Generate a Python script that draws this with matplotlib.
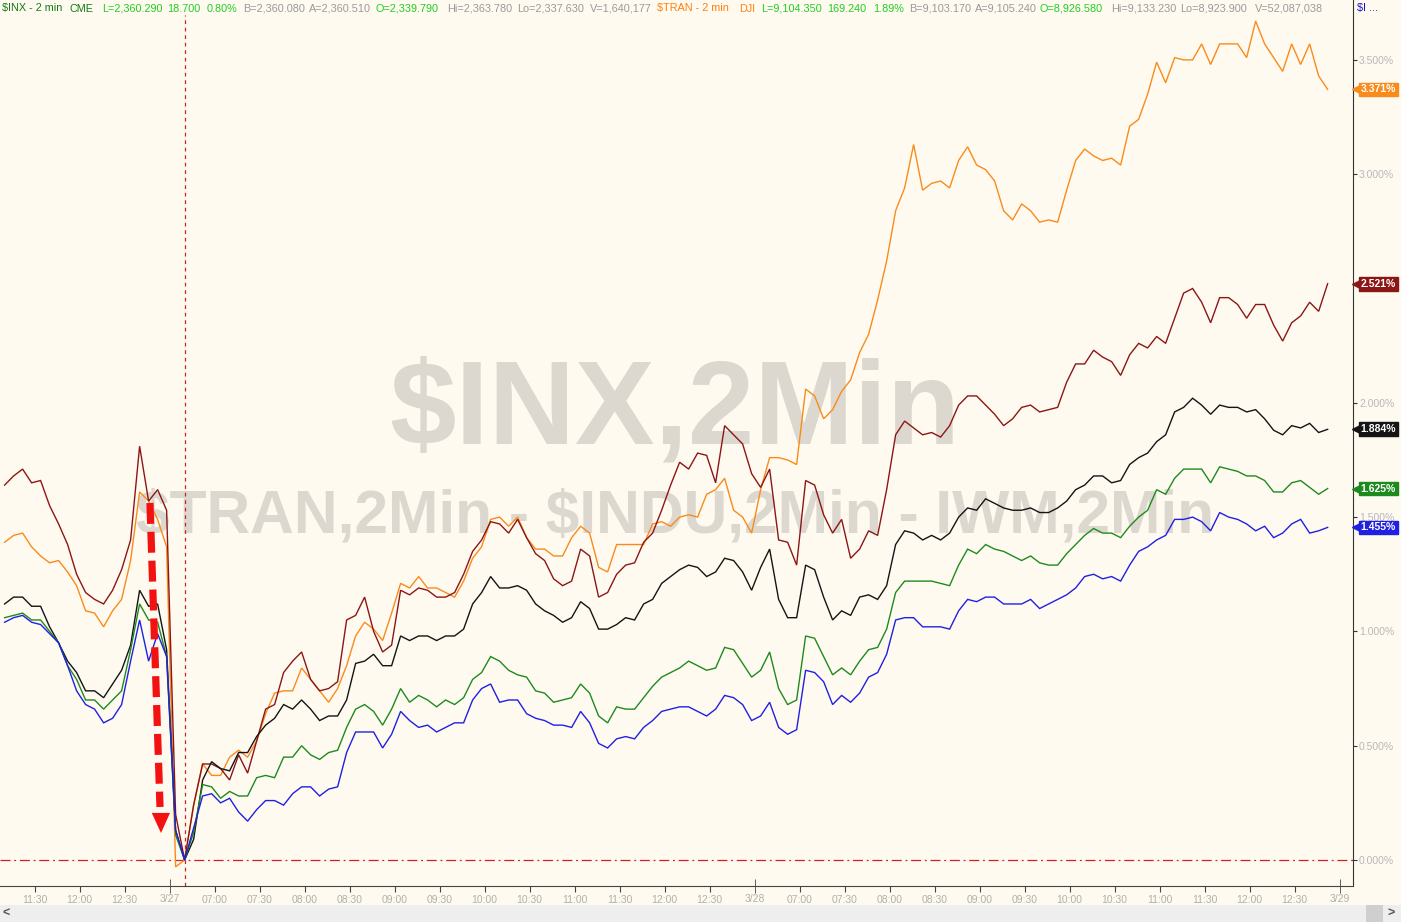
import matplotlib
matplotlib.use("Agg")
import matplotlib.pyplot as plt
import matplotlib.transforms as mtransforms
from matplotlib.patches import Polygon, Rectangle
import numpy as np

plt.rcParams['font.family'] = ['Liberation Sans', 'DejaVu Sans']
plt.rcParams['text.parse_math'] = False

# ---------------- data (percent change, 2-minute bars sampled every 6 min) ----------------
# time axis: trading minutes relative to the 3/27 open (previous close = 0)
t = np.arange(-110, 773, 6)

tran = [1.39,1.42,1.43,1.37,1.33,1.30,1.31,1.26,1.20,1.09,1.08,1.02,1.09,1.14,1.31,1.61,1.57,1.49,1.37,-0.03,
        0.00,0.24,0.42,0.37,0.37,0.45,0.48,0.45,0.52,0.64,0.73,0.74,0.74,0.84,0.79,0.74,0.69,0.75,0.85,0.98,
        1.04,1.01,0.96,1.08,1.21,1.19,1.24,1.19,1.19,1.17,1.15,1.22,1.32,1.37,1.49,1.50,1.46,1.50,1.41,1.36,
        1.36,1.33,1.33,1.41,1.46,1.43,1.28,1.26,1.38,1.38,1.38,1.38,1.47,1.48,1.46,1.50,1.51,1.50,1.60,1.62,
        1.67,1.53,1.50,1.43,1.62,1.76,1.76,1.75,1.73,2.06,2.03,1.93,1.97,2.05,2.10,2.22,2.30,2.45,2.62,2.84,
        2.94,3.13,2.93,2.96,2.97,2.94,3.06,3.12,3.04,3.02,2.97,2.84,2.80,2.87,2.84,2.79,2.80,2.79,2.93,3.06,
        3.11,3.08,3.06,3.07,3.04,3.21,3.24,3.35,3.49,3.40,3.51,3.50,3.50,3.57,3.48,3.57,3.57,3.57,3.51,3.67,
        3.57,3.51,3.45,3.57,3.48,3.57,3.43,3.371]

iwm = [1.64,1.68,1.71,1.65,1.66,1.55,1.47,1.38,1.25,1.17,1.14,1.12,1.18,1.27,1.40,1.81,1.57,1.62,1.53,0.20,
       0.00,0.24,0.42,0.42,0.40,0.35,0.46,0.38,0.52,0.66,0.68,0.82,0.87,0.91,0.79,0.74,0.75,0.78,1.05,1.07,
       1.15,1.00,0.91,0.94,1.18,1.16,1.19,1.18,1.15,1.15,1.17,1.25,1.35,1.40,1.48,1.47,1.43,1.49,1.41,1.34,
       1.31,1.23,1.20,1.22,1.36,1.33,1.15,1.17,1.25,1.29,1.30,1.39,1.43,1.53,1.64,1.74,1.71,1.78,1.77,1.65,
       1.90,1.86,1.82,1.69,1.63,1.71,1.40,1.39,1.29,1.66,1.64,1.51,1.43,1.49,1.32,1.36,1.44,1.42,1.62,1.86,
       1.92,1.89,1.86,1.87,1.85,1.90,1.99,2.03,2.03,1.99,1.95,1.90,1.93,1.98,1.99,1.96,1.97,1.98,2.09,2.17,
       2.17,2.23,2.20,2.18,2.12,2.21,2.26,2.24,2.29,2.26,2.37,2.48,2.50,2.44,2.35,2.46,2.46,2.43,2.37,2.43,
       2.43,2.34,2.27,2.35,2.38,2.44,2.40,2.521]

indu = [1.12,1.15,1.15,1.11,1.11,1.02,0.95,0.87,0.82,0.74,0.74,0.71,0.77,0.83,0.94,1.18,1.11,1.12,0.92,0.13,
        0.00,0.09,0.35,0.43,0.40,0.39,0.47,0.47,0.54,0.59,0.62,0.68,0.66,0.70,0.66,0.61,0.63,0.63,0.70,0.86,
        0.87,0.90,0.85,0.85,0.98,0.96,0.98,0.98,0.96,0.98,0.98,1.01,1.12,1.17,1.24,1.19,1.19,1.20,1.18,1.12,
        1.09,1.07,1.04,1.06,1.13,1.10,1.01,1.01,1.03,1.06,1.05,1.12,1.14,1.21,1.24,1.27,1.29,1.28,1.24,1.26,
        1.32,1.31,1.26,1.18,1.28,1.36,1.14,1.06,1.06,1.29,1.27,1.15,1.05,1.09,1.07,1.15,1.16,1.14,1.20,1.38,
        1.44,1.43,1.40,1.42,1.40,1.43,1.50,1.54,1.53,1.58,1.56,1.54,1.53,1.53,1.54,1.52,1.52,1.54,1.57,1.62,
        1.64,1.68,1.68,1.65,1.66,1.73,1.76,1.78,1.83,1.86,1.96,1.98,2.02,1.99,1.95,1.99,1.98,1.98,1.96,1.97,
        1.93,1.88,1.86,1.90,1.89,1.91,1.87,1.884]

inx = [1.06,1.07,1.08,1.05,1.05,1.00,0.95,0.85,0.79,0.70,0.70,0.66,0.70,0.74,0.92,1.12,1.05,1.04,0.89,0.11,
       0.00,0.12,0.33,0.32,0.27,0.30,0.28,0.28,0.36,0.37,0.36,0.45,0.45,0.50,0.46,0.44,0.47,0.48,0.58,0.66,
       0.68,0.65,0.59,0.66,0.75,0.69,0.72,0.70,0.67,0.70,0.68,0.71,0.79,0.82,0.89,0.87,0.83,0.81,0.80,0.74,
       0.73,0.69,0.70,0.71,0.77,0.73,0.63,0.60,0.67,0.66,0.66,0.71,0.76,0.80,0.82,0.84,0.87,0.85,0.83,0.84,
       0.93,0.92,0.86,0.80,0.83,0.91,0.75,0.68,0.70,0.98,0.97,0.89,0.81,0.84,0.81,0.87,0.92,0.93,1.01,1.17,
       1.22,1.22,1.22,1.22,1.21,1.20,1.29,1.36,1.34,1.38,1.36,1.35,1.33,1.31,1.33,1.30,1.29,1.29,1.34,1.38,
       1.42,1.45,1.43,1.43,1.41,1.46,1.50,1.53,1.62,1.60,1.67,1.71,1.71,1.71,1.65,1.72,1.71,1.70,1.68,1.68,
       1.66,1.61,1.61,1.65,1.66,1.63,1.60,1.625]

ndx = [1.04,1.06,1.07,1.04,1.03,0.99,0.95,0.85,0.74,0.68,0.66,0.60,0.62,0.68,0.87,1.05,0.87,0.99,0.89,0.13,
       0.00,0.14,0.28,0.29,0.25,0.27,0.21,0.17,0.22,0.26,0.26,0.24,0.29,0.32,0.32,0.28,0.31,0.32,0.47,0.56,
       0.56,0.56,0.49,0.55,0.65,0.61,0.58,0.59,0.56,0.58,0.60,0.60,0.70,0.75,0.77,0.69,0.70,0.70,0.64,0.62,
       0.61,0.59,0.59,0.58,0.65,0.60,0.51,0.49,0.53,0.54,0.53,0.58,0.61,0.65,0.66,0.67,0.67,0.65,0.63,0.66,
       0.72,0.71,0.68,0.61,0.63,0.69,0.58,0.55,0.57,0.83,0.82,0.78,0.68,0.72,0.69,0.73,0.80,0.82,0.90,1.05,
       1.06,1.06,1.02,1.02,1.02,1.01,1.09,1.14,1.13,1.15,1.15,1.12,1.12,1.12,1.14,1.10,1.12,1.14,1.16,1.19,
       1.24,1.25,1.23,1.24,1.22,1.29,1.35,1.37,1.40,1.42,1.49,1.49,1.50,1.48,1.44,1.52,1.50,1.49,1.47,1.44,
       1.46,1.41,1.43,1.47,1.49,1.43,1.44,1.455]

series = [tran, iwm, indu, inx, ndx]
colors = ['#F98B1B', '#8C1616', '#141414', '#1E8A1E', '#2020E2']

xtick_times = [-90, -60, -30, 30, 60, 90, 120, 150, 180, 210, 240, 270, 300, 330, 360,
               420, 450, 480, 510, 540, 570, 600, 630, 660, 690, 720, 750]
xtick_labels = ['11:30', '12:00', '12:30', '07:00', '07:30', '08:00', '08:30', '09:00', '09:30',
                '10:00', '10:30', '11:00', '11:30', '12:00', '12:30', '07:00', '07:30', '08:00',
                '08:30', '09:00', '09:30', '10:00', '10:30', '11:00', '11:30', '12:00', '12:30']
day_times = [0, 390, 780]
day_labels = ['3/27', '3/28', '3/29']
ytick_vals = [0.0, 0.5, 1.0, 1.5, 2.0, 3.0, 3.5]

# ---------------- figure ----------------
BG = '#FFFAF0'
W, H = 1401, 922
fig = plt.figure(figsize=(W / 100, H / 100), dpi=100, facecolor=BG)
ax = fig.add_axes([0, 36 / H, 1352.7 / W, 886 / H])
ax.set_facecolor(BG)
ax.set_xlim(-113.07, 788.7)
ax.set_ylim(-26 / 228.6, 860 / 228.6)

# watermark
WM = '#DCD8CF'
ax.text(0.499, 0.5, '$INX,2Min', transform=ax.transAxes, ha='center', va='baseline',
        fontsize=86, fontweight='bold', color=WM, zorder=0)
ax.text(0.499, 0.3995, '$TRAN,2Min - $INDU,2Min - IWM,2Min', transform=ax.transAxes,
        ha='center', va='baseline', fontsize=43.6, fontweight='bold', color=WM, zorder=0)

# reference lines
ax.axhline(0, color='#CC2222', lw=0.9, ls=(0, (8, 3, 1.5, 3)), zorder=1)
t_zero = t[list(iwm).index(0.0)]
ax.axvline(t_zero, ymax=(886 - 15) / 886, color='#CC2222', lw=0.9, ls=(0, (3, 3)), zorder=1)

# series
for s, c in zip(series, colors):
    ax.plot(t, s, color=c, lw=1.0, zorder=3, solid_joinstyle='miter')

# red dashed arrow (annotation)
ax.plot([-13.1, -6.4], [1.562, 0.232], color='#F21212', lw=5.2,
        dashes=(2.9, 1.1), solid_capstyle='butt', dash_capstyle='butt', zorder=4)
ax.add_patch(Polygon([[-11.9, 0.206], [0.27, 0.206], [-5.73, 0.118]], closed=True,
                     fc='#F21212', ec='none', zorder=4))

# axes styling
for side in ['left', 'top']:
    ax.spines[side].set_visible(False)
ax.spines['right'].set_color('#333333')
ax.spines['bottom'].set_color('#444444')
ax.yaxis.tick_right()
ax.set_yticks(ytick_vals)
ax.set_yticklabels([f'{v:.3f}%' for v in ytick_vals])
ax.tick_params(axis='y', direction='out', length=3, color='#333333', labelcolor='#B8B8B8',
               labelsize=7.5, pad=1.5)
ax.set_xticks(xtick_times)
ax.set_xticklabels(xtick_labels)
ax.set_xticks(day_times, minor=True)
ax.set_xticklabels(day_labels, minor=True)
ax.tick_params(axis='x', which='major', direction='out', length=4, color='#444444',
               labelcolor='#B0B0B0', labelsize=7.5, pad=2.5)
ax.tick_params(axis='x', which='minor', direction='inout', length=10, color='#444444',
               labelcolor='#B0B0B0', labelsize=7.5, pad=0.5)

# last-value tags
tag_tr = ax.get_yaxis_transform() + mtransforms.ScaledTranslation(0.055, 0, fig.dpi_scale_trans)
for s, c in zip(series, colors):
    v = s[-1]
    ax.plot([1.0], [v], marker='<', ms=8, color=c, transform=tag_tr, clip_on=False, zorder=6)
    ax.annotate(f'{v:.3f}%', xy=(1.0, v), xycoords=ax.get_yaxis_transform(),
                xytext=(5.6, 0), textcoords='offset points', ha='left', va='center',
                fontsize=7.5, fontweight='bold', color='white', annotation_clip=False,
                bbox=dict(boxstyle='square,pad=0.18', fc=c, ec=c), zorder=7)

# header line
hy = 1 - 8.5 / H
G1, G2, GR, OR, BL = '#127A12', '#22CC22', '#9A9A9A', '#FF7F0F', '#1010C8'
header = [(2, '$INX - 2 min', G1), (70, 'CME', G1), (102, 'L=2,360.290', G2), (167, '18.700', G2),
          (207, '0.80%', G2), (243, 'B=2,360.080', GR), (309, 'A=2,360.510', GR),
          (375, 'O=2,339.790', G2), (447, 'Hi=2,363.780', GR), (517, 'Lo=2,337.630', GR),
          (590, 'V=1,640,177', GR), (657, '$TRAN - 2 min', OR), (739, 'DJI', OR),
          (761, 'L=9,104.350', G2), (827, '169.240', G2), (873, '1.89%', G2),
          (909, 'B=9,103.170', GR), (975, 'A=9,105.240', GR), (1040, 'O=8,926.580', G2),
          (1111, 'Hi=9,133.230', GR), (1180, 'Lo=8,923.900', GR), (1255, 'V=52,087,038', GR),
          (1357, '$I ...', BL)]
for x, s, c in header:
    fig.text(x / W, hy, s, color=c, fontsize=7.8, ha='left', va='center')

# bottom scroll bar
fig.add_artist(Rectangle((0, 0), 1, 17 / H, transform=fig.transFigure, fc='#EEEEEE', ec='none'))
fig.add_artist(Rectangle((1366 / W, 0), 17 / W, 17 / H, transform=fig.transFigure,
                         fc='#CFCFCF', ec='none'))
fig.text(6 / W, 8.5 / H, '<', color='#555555', fontsize=9, fontweight='bold', ha='center', va='center')
fig.text(1391 / W, 8.5 / H, '>', color='#555555', fontsize=9, fontweight='bold', ha='center', va='center')

fig.savefig('out.png', dpi=100, facecolor=BG)
